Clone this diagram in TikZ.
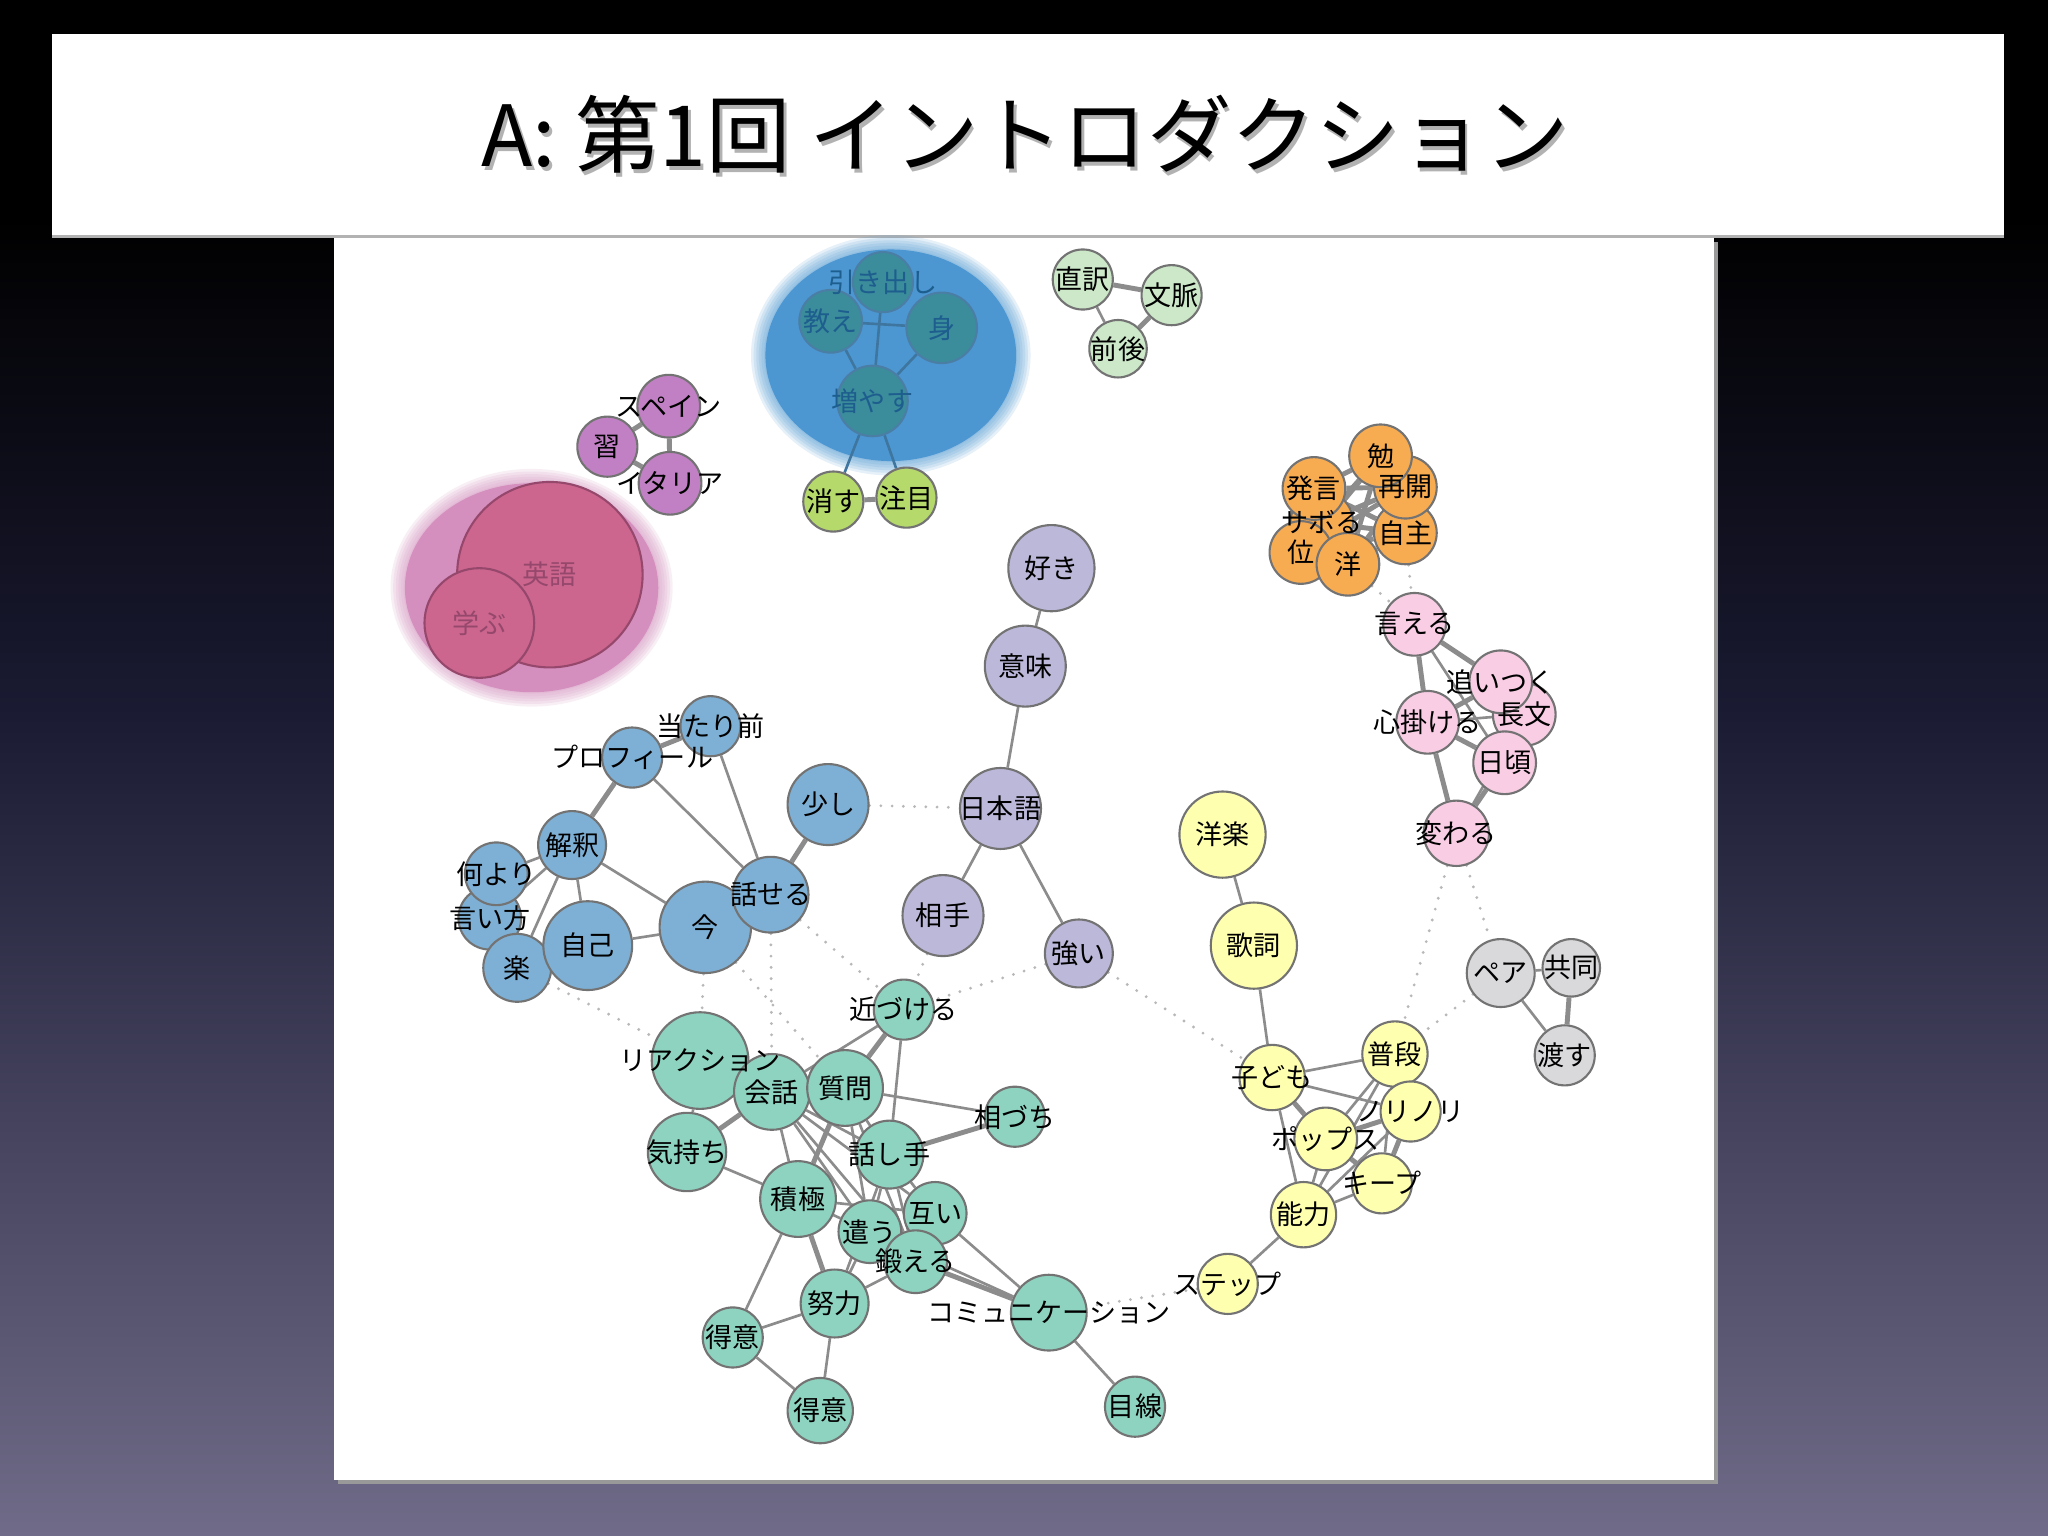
\documentclass[tikz,border=0pt]{standalone}
\usepackage{fontspec}
\newfontfamily\jp{Noto Sans CJK JP}
\usetikzlibrary{shapes}

\definecolor{bgbot}{RGB}{111,107,136}
\definecolor{bgmid}{RGB}{26,26,50}
\definecolor{cblue}{RGB}{126,176,213}
\definecolor{cteal}{RGB}{141,211,192}
\definecolor{clav}{RGB}{188,184,218}
\definecolor{cyel}{RGB}{255,255,176}
\definecolor{corn}{RGB}{248,172,82}
\definecolor{cpink}{RGB}{249,206,229}
\definecolor{cgray}{RGB}{217,217,220}
\definecolor{cgreen}{RGB}{204,232,200}
\definecolor{corch}{RGB}{193,128,196}
\definecolor{clime}{RGB}{181,217,106}
\definecolor{crose}{RGB}{204,102,142}
\definecolor{hpink}{RGB}{212,143,190}
\definecolor{hblue}{RGB}{76,151,210}
\definecolor{hnode}{RGB}{59,141,155}
\definecolor{htext}{RGB}{29,94,142}
\definecolor{ptext}{RGB}{150,72,108}

\pgfdeclareverticalshading{slidebg}{100bp}{color(0bp)=(bgbot); color(25bp)=(bgbot); color(52bp)=(bgmid); color(68bp)=(black); color(100bp)=(black)}

\pgfdeclarelayer{bg}
\pgfdeclarelayer{edges}
\pgfdeclarelayer{front}
\pgfsetlayers{bg,edges,main,front}

\tikzset{
  kw/.style={circle, draw=black!55, line width=0.6pt, inner sep=0pt},
  sz/.style={minimum size=#1*0.026122cm},
  nblue/.style={kw, fill=cblue},
  nteal/.style={kw, fill=cteal},
  nlav/.style={kw, fill=clav},
  nyel/.style={kw, fill=cyel},
  norn/.style={kw, fill=corn},
  npink/.style={kw, fill=cpink},
  ngray/.style={kw, fill=cgray},
  ngreen/.style={kw, fill=cgreen},
  norch/.style={kw, fill=corch},
  nlime/.style={kw, fill=clime},
  nhalo/.style={kw, fill=hnode, draw=htext!80},
  nrose/.style={kw, fill=crose, draw=ptext},
  txt/.style={font=\jp\fontsize{7.7}{8}\selectfont, inner sep=0pt},
  ln/.style={draw=black!45, line width=0.75pt},
  lnb/.style={draw=black!45, line width=1.4pt},
  lnh/.style={draw=htext!85, line width=0.75pt},
  weak/.style={draw=black!28, line width=0.9pt, line cap=round, dash pattern=on 0pt off 3.2pt}
}

\begin{document}
\begin{tikzpicture}[x=0.013061cm,y=-0.013061cm]
\useasboundingbox (0,0) rectangle (1568,1176);

\begin{pgfonlayer}{bg}
% slide background
\shade[shading=slidebg] (0,0) rectangle (1568,1176);
\fill[black!40] (259,185) rectangle (1315,1136);
\fill[white] (256,182) rectangle (1312,1133);
\fill[black!30] (40,180) rectangle (1534,182.5);
\fill[white] (40,26) rectangle (1534,180);
\node[font=\jp\fontsize{24}{28}\selectfont, text=black!30] (titleshadow) at (787,106) {A: 第1回 イントロダクション};
\node[font=\jp\fontsize{24}{28}\selectfont] (title) at (785,103) {A: 第1回 イントロダクション};

% halos
\foreach \k in {1,...,6}
  \fill[hpink, opacity=0.14] (407,450) ellipse [x radius=96+2*\k, y radius=79+2*\k];
\fill[hpink] (407,450) ellipse [x radius=97, y radius=80];
\foreach \k in {1,...,6}
  \fill[hblue, opacity=0.14] (682,272) ellipse [x radius=95+2*\k, y radius=80+2*\k];
\fill[hblue] (682,272) ellipse [x radius=96, y radius=81];
\end{pgfonlayer}

% pink halo group
\node[nrose, sz=71] (eigo) at (421,440) {};
\node[nrose, sz=42] (manabu) at (367,477) {};

% blue halo group
\node[nhalo, sz=23] (hikidashi) at (676,216) {};
\node[nhalo, sz=24] (oshie) at (636,246) {};
\node[nhalo, sz=27] (mi) at (721,251) {};
\node[nhalo, sz=27] (fuyasu) at (668,307) {};
\node[nlime, sz=23] (kesu) at (638,384) {};
\node[nlime, sz=23] (chuumoku) at (694,381) {};

% orchid
\node[norch, sz=24] (supein) at (512,311) {};
\node[norch, sz=23] (narau) at (465,342) {};
\node[norch, sz=24] (itaria) at (513,370) {};

% green
\node[ngreen, sz=23] (chokuyaku) at (829,214) {};
\node[ngreen, sz=23] (bunmyaku) at (897,226) {};
\node[ngreen, sz=22] (zengo) at (856,267) {};

% orange
\node[norn, sz=24] (sabo) at (1012,400) {};
\node[norn, sz=24] (hatsugen) at (1006,374) {};
\node[norn, sz=24] (kurai) at (996,423) {};
\node[norn, sz=24] (you) at (1032,432) {};
\node[norn, sz=24] (jishu) at (1076,408) {};
\node[norn, sz=24] (saikai) at (1076,373) {};
\node[norn, sz=24] (ben) at (1057,349) {};

% pink
\node[npink, sz=24] (ieru) at (1083,478) {};
\node[npink, sz=24] (choubun) at (1167,547) {};
\node[npink, sz=24] (oitsuku) at (1149,522) {};
\node[npink, sz=24] (kokoro) at (1093,553) {};
\node[npink, sz=24] (higoro) at (1152,584) {};
\node[npink, sz=25] (kawaru) at (1115,638) {};

% lavender
\node[nlav, sz=33] (suki) at (805,435) {};
\node[nlav, sz=31] (imi) at (785,510) {};
\node[nlav, sz=31] (nihongo) at (766,619) {};
\node[nlav, sz=31] (aite) at (722,701) {};
\node[nlav, sz=26] (tsuyoi) at (826,730) {};

% blue
\node[nblue, sz=23] (atarimae) at (544,556) {};
\node[nblue, sz=23] (profile) at (484,580) {};
\node[nblue, sz=31] (sukoshi) at (634,616) {};
\node[nblue, sz=26] (kaishaku) at (438,647) {};
\node[nblue, sz=24] (iikata) at (375,703) {};
\node[nblue, sz=24] (nani) at (380,669) {};
\node[nblue, sz=26] (raku) at (396,741) {};
\node[nblue, sz=34] (jiko) at (450,724) {};
\node[nblue, sz=35] (ima) at (540,710) {};
\node[nblue, sz=29] (hanaseru) at (590,685) {};

% teal
\node[nteal, sz=23] (chikazukeru) at (692,773) {};
\node[nteal, sz=37] (reaction) at (536,812) {};
\node[nteal, sz=29] (kaiwa) at (591,836) {};
\node[nteal, sz=29] (shitsumon) at (647,833) {};
\node[nteal, sz=23] (aiduchi) at (777,855) {};
\node[nteal, sz=30] (kimochi) at (526,882) {};
\node[nteal, sz=26] (hanashite) at (681,884) {};
\node[nteal, sz=29] (sekkyoku) at (611,918) {};
\node[nteal, sz=24] (tagai) at (716,929) {};
\node[nteal, sz=24] (tsukau) at (666,943) {};
\node[nteal, sz=24] (kitaeru) at (701,966) {};
\node[nteal, sz=26] (doryoku) at (639,998) {};
\node[nteal, sz=23] (tokuia) at (561,1024) {};
\node[nteal, sz=25] (tokuib) at (628,1080) {};
\node[nteal, sz=29] (komyu) at (803,1005) {};
\node[nteal, sz=23] (mesen) at (869,1077) {};

% yellow
\node[nyel, sz=33] (yougaku) at (936,639) {};
\node[nyel, sz=33] (kashi) at (960,724) {};
\node[nyel, sz=25] (kodomo) at (974,825) {};
\node[nyel, sz=25] (fudan) at (1068,807) {};
\node[nyel, sz=23] (norinori) at (1080,851) {};
\node[nyel, sz=23] (kiipu) at (1058,906) {};
\node[nyel, sz=24] (poppusu) at (1015,872) {};
\node[nyel, sz=25] (nouryoku) at (998,930) {};
\node[nyel, sz=23] (step) at (940,983) {};

% gray
\node[ngray, sz=26] (pea) at (1149,745) {};
\node[ngray, sz=22] (kyoudou) at (1203,741) {};
\node[ngray, sz=23] (watasu) at (1198,808) {};

\begin{pgfonlayer}{edges}
\foreach \a/\b in {hikidashi/fuyasu, oshie/mi, oshie/fuyasu, mi/fuyasu, fuyasu/kesu, fuyasu/chuumoku}
  \draw[lnh] (\a) -- (\b);
\foreach \a/\b in {kesu/chuumoku, narau/supein, narau/itaria, supein/itaria,
  chokuyaku/bunmyaku, bunmyaku/zengo,
  hatsugen/ben, hatsugen/saikai, hatsugen/jishu, hatsugen/you, sabo/ben, sabo/saikai,
  sabo/jishu, sabo/you, kurai/ben, kurai/saikai, kurai/jishu, you/ben, you/saikai,
  you/jishu, ben/jishu, saikai/jishu, hatsugen/kurai,
  ieru/kokoro, ieru/oitsuku, kokoro/oitsuku, kokoro/higoro, kokoro/kawaru, higoro/kawaru,
  profile/atarimae, profile/kaishaku, hanaseru/sukoshi,
  kaiwa/kimochi, shitsumon/chikazukeru, hanashite/aiduchi, shitsumon/sekkyoku,
  sekkyoku/doryoku, kitaeru/komyu,
  kodomo/poppusu, norinori/poppusu, norinori/kiipu, poppusu/kiipu, kyoudou/watasu}
  \draw[lnb] (\a) -- (\b);
\foreach \a/\b in {chokuyaku/zengo, ieru/higoro, kokoro/choubun, choubun/kawaru,
  suki/imi, imi/nihongo, nihongo/aite, nihongo/tsuyoi,
  profile/hanaseru, atarimae/hanaseru, kaishaku/nani, kaishaku/iikata, kaishaku/raku,
  kaishaku/jiko, kaishaku/ima, jiko/ima,
  reaction/kimochi, kaiwa/sekkyoku, kaiwa/chikazukeru, chikazukeru/hanashite,
  shitsumon/aiduchi, kaiwa/hanashite, kaiwa/tsukau, kaiwa/tagai, kaiwa/kitaeru,
  shitsumon/tsukau, shitsumon/kitaeru, shitsumon/hanashite, kimochi/sekkyoku,
  sekkyoku/tsukau, sekkyoku/tokuia, sekkyoku/tagai, hanashite/tsukau, hanashite/tagai,
  hanashite/kitaeru, hanashite/doryoku, tagai/komyu, tsukau/doryoku, tsukau/komyu,
  doryoku/kitaeru, doryoku/tokuia, doryoku/tokuib, tokuia/tokuib, komyu/mesen,
  yougaku/kashi, kashi/kodomo, kodomo/fudan, kodomo/norinori, kodomo/nouryoku,
  fudan/poppusu, fudan/nouryoku, fudan/kiipu, norinori/nouryoku, poppusu/nouryoku,
  kiipu/nouryoku, nouryoku/step, pea/kyoudou, pea/watasu}
  \draw[ln] (\a) -- (\b);
\foreach \a/\b in {sukoshi/nihongo, raku/reaction, ima/reaction, ima/shitsumon,
  hanaseru/kaiwa, hanaseru/chikazukeru, aite/chikazukeru, tsuyoi/chikazukeru,
  tsuyoi/kodomo, step/komyu, kawaru/fudan, kawaru/pea, pea/fudan, you/ieru, jishu/ieru}
  \draw[weak] (\a) -- (\b);
\end{pgfonlayer}

\begin{pgfonlayer}{front}
\foreach \n/\t in {eigo/英語, manabu/学ぶ}
  \node[txt, text=ptext] at (\n) {\t};
\foreach \n/\t in {hikidashi/引き出し, oshie/教え, mi/身, fuyasu/増やす}
  \node[txt, text=htext] at (\n) {\t};
\foreach \n/\t in {kesu/消す, chuumoku/注目, supein/スペイン, narau/習, itaria/イタリア,
  chokuyaku/直訳, bunmyaku/文脈, zengo/前後,
  ben/勉, saikai/再開, hatsugen/発言, sabo/サボる, jishu/自主, kurai/位, you/洋,
  ieru/言える, oitsuku/追いつく, choubun/長文, kokoro/心掛ける, higoro/日頃, kawaru/変わる,
  suki/好き, imi/意味, nihongo/日本語, aite/相手, tsuyoi/強い,
  atarimae/当たり前, profile/プロフィール, sukoshi/少し, kaishaku/解釈, nani/何より,
  iikata/言い方, raku/楽, jiko/自己, ima/今, hanaseru/話せる,
  chikazukeru/近づける, reaction/リアクション, kaiwa/会話, shitsumon/質問, aiduchi/相づち,
  kimochi/気持ち, hanashite/話し手, sekkyoku/積極, tagai/互い, tsukau/遣う, kitaeru/鍛える,
  doryoku/努力, tokuia/得意, tokuib/得意, komyu/コミュニケーション, mesen/目線,
  yougaku/洋楽, kashi/歌詞, kodomo/子ども, fudan/普段, norinori/ノリノリ, poppusu/ポップス,
  kiipu/キープ, nouryoku/能力, step/ステップ,
  pea/ペア, kyoudou/共同, watasu/渡す}
  \node[txt] at (\n) {\t};
\end{pgfonlayer}

\end{tikzpicture}
\end{document}
